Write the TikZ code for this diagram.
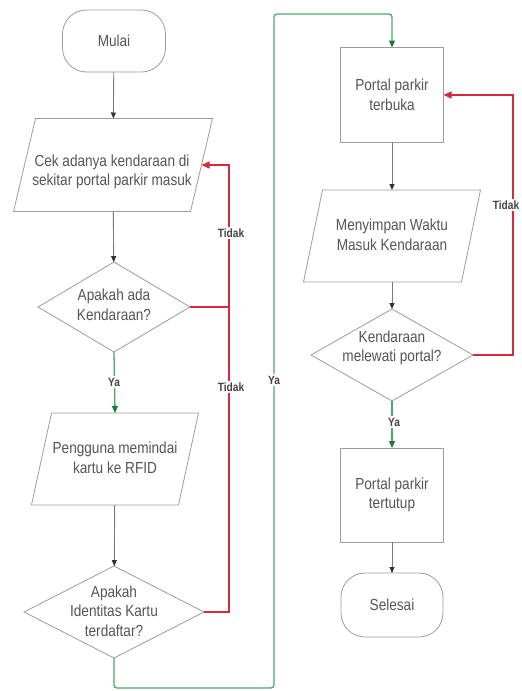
\documentclass[tikz,border=0pt]{standalone}
\usepackage{fontspec}
\setmainfont{Liberation Sans}[FakeStretch=0.85]
\usetikzlibrary{shapes.geometric,arrows.meta,calc}
\definecolor{bord}{HTML}{9C9C9C}
\definecolor{txt}{HTML}{555555}
\definecolor{conn}{HTML}{7A7A7A}
\definecolor{tipc}{HTML}{333333}
\definecolor{redc}{HTML}{D42A3C}
\definecolor{grnc}{HTML}{4CA86A}
\definecolor{grntip}{HTML}{1E7A36}
\tikzset{
 base/.style={draw=bord, line width=0.8pt, inner sep=0pt, outer sep=0pt},
 term/.style={base, rectangle, rounded corners=24pt, minimum width=103pt, minimum height=62pt},
 proc/.style={base, rectangle, minimum width=103pt, minimum height=95pt},
 iobody/.style={rectangle, draw=none, inner sep=0pt, outer sep=0pt},
 dec/.style={base, diamond},
 txtn/.style={text=txt, font=\fontsize{16}{19.5}\selectfont, align=center, inner sep=0pt},
 garrow/.style={draw=conn, line width=0.9pt, -{Triangle[length=6pt,width=5pt,color=tipc]}},
 rarrow/.style={draw=redc, line width=1.3pt, -{Triangle[length=8pt,width=7pt]}},
 rline/.style={draw=redc, line width=1.3pt},
 gnarrow/.style={draw=grnc, line width=1.3pt, rounded corners=3pt, -{Triangle[length=7pt,width=6pt,color=grntip]}},
 lbl/.style={fill=white, text=txt!80!black, font=\bfseries\fontsize{12}{12}\selectfont, inner sep=1.5pt},
}
\newcommand\paraoutline[2]{%
 \draw[base] ($(#1.north west)+(#2/2,0)$) -- ($(#1.north east)+(#2/2,0)$)
   -- ($(#1.south east)-(#2/2,0)$) -- ($(#1.south west)-(#2/2,0)$) -- cycle;}
\begin{document}
\begin{tikzpicture}[x=1pt,y=-1pt]
\useasboundingbox[fill=white] (0,0) rectangle (522,691);
% left column
\node[term, txtn] (mulai) at (114,41) {Mulai};
\node[iobody, minimum width=177pt, minimum height=93pt] (cek) at (113,165) {};
\paraoutline{cek}{22}
\node[txtn] (cekt) at (112,172) {Cek adanya kendaraan di\\sekitar portal parkir masuk};
\node[dec, minimum width=152pt, minimum height=90pt] (d1) at (114,307) {};
\node[txtn] (d1t) at (114,305) {Apakah ada\\Kendaraan?};
\node[iobody, minimum width=147pt, minimum height=92pt] (peng) at (115,459) {};
\paraoutline{peng}{20}
\node[txtn] (pengt) at (115,458) {Pengguna memindai\\kartu ke RFID};
\node[dec, minimum width=180pt, minimum height=92pt] (d2) at (114,612) {};
\node[txtn] (d2t) at (114,611) {Apakah\\Identitas Kartu\\terdaftar?};
% right column
\node[proc, txtn] (por1) at (392,95) {Portal parkir\\terbuka};
\node[iobody, minimum width=158pt, minimum height=92pt] (meny) at (392,236) {};
\paraoutline{meny}{19}
\node[txtn] (menyt) at (392,235) {Menyimpan Waktu\\Masuk Kendaraan};
\node[dec, minimum width=162pt, minimum height=92pt] (d3) at (392,355) {};
\node[txtn] (d3t) at (392,348) {Kendaraan\\melewati portal?};
\node[proc, txtn, minimum height=94pt] (por2) at (392,495) {Portal parkir\\tertutup};
\node[term, txtn, minimum width=102pt, minimum height=64pt] (sel) at (392,605) {Selesai};
% helper coordinates
\coordinate (rx) at (229,0);
\coordinate (rx2) at (513,0);
\coordinate (gB) at (274,688);
\coordinate (gT) at (274,14);
% gray arrows
\draw[garrow] (mulai) -- (cek);
\draw[garrow] (cek) -- (d1);
\draw[garrow] (peng) -- (d2);
\draw[garrow] (por1) -- (meny);
\draw[garrow] (meny) -- (d3);
\draw[garrow] (por2) -- (sel);
% red
\draw[rarrow] (d2.east) -- (d2.east -| rx) |- (cek.east);
\draw[rline] (d1.east) -- (d1.east -| rx);
\draw[rarrow] (d3.east) -- (d3.east -| rx2) |- (por1.east);
\node[lbl] (t1) at (231,233) {Tidak};
\node[lbl] (t2) at (231,387) {Tidak};
\node[lbl] (t3) at (506,205) {Tidak};
% green
\draw[gnarrow] (d1.south) -- (peng.north);
\draw[gnarrow] (d2.south) |- (gB) -- (gT) -| (por1.north);
\draw[gnarrow] (d3.south) -- (por2.north);
\node[lbl] (y1) at (114,382) {Ya};
\node[lbl] (y2) at (274,380) {Ya};
\node[lbl] (y3) at (394,422) {Ya};
\end{tikzpicture}
\end{document}
